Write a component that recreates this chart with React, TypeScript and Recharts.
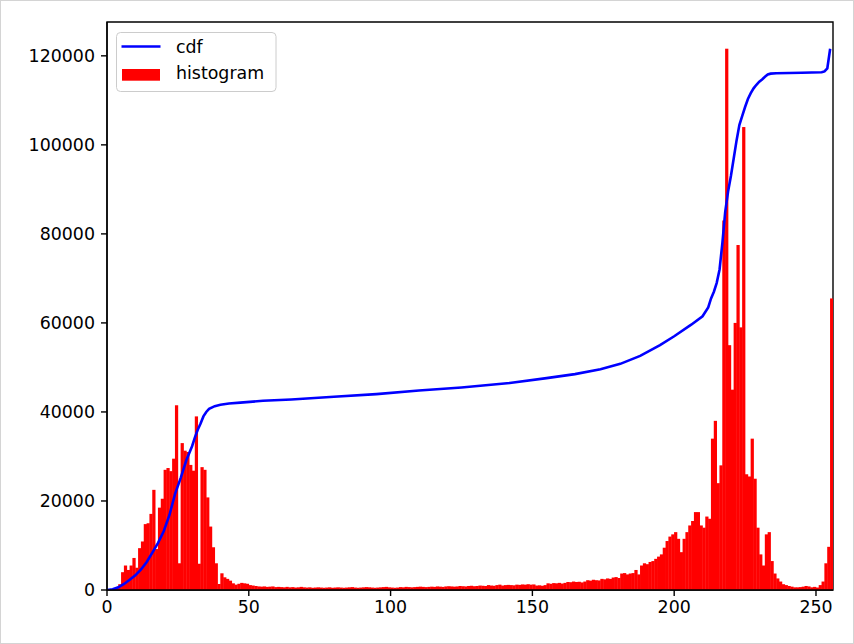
import React from 'react';
import { ComposedChart, Bar, Line, XAxis, YAxis, Legend, ReferenceArea } from 'recharts';

// bin index (pixel intensity 0..255)
const binIndex: number[] = Array.from({ length: 256 }, (_, i) => i);

// histogram counts per bin
const histogram: number[] = [
  0, 0, 200, 500, 1300, 4000, 5500, 4500, 5500, 7200,
  5000, 9400, 10900, 14800, 15000, 17100, 22500, 9200, 18500, 20500,
  27000, 27400, 26700, 29500, 41500, 6000, 33000, 31300, 31000, 28100,
  26800, 39000, 5900, 27600, 27000, 20800, 14250, 9600, 6000, 1350,
  3750, 2850, 2500, 2100, 1500, 1200, 1400, 1600, 1500, 1400,
  1100, 1000, 900, 800, 750, 800, 700, 750, 800, 650,
  700, 650, 600, 700, 600, 650, 550, 600, 700, 600,
  550, 600, 500, 550, 600, 550, 500, 550, 600, 500,
  550, 600, 550, 500, 550, 600, 650, 550, 500, 550,
  600, 650, 600, 550, 500, 550, 600, 650, 700, 600,
  550, 500, 550, 650, 600, 700, 650, 600, 650, 700,
  750, 700, 650, 700, 750, 700, 800, 750, 700, 800,
  850, 800, 750, 800, 900, 850, 800, 900, 950, 850,
  900, 1000, 950, 900, 1100, 1000, 950, 1100, 1200, 1000,
  1100, 1150, 1100, 1050, 1200, 1150, 1250, 1200, 1300, 1200,
  1250, 1000, 1050, 950, 1100, 1500, 1400, 1550, 1500, 1600,
  1450, 1600, 1800, 1750, 1900, 1800, 1850, 1700, 1900, 2200,
  2100, 2300, 2200, 2150, 2500, 2400, 2600, 2500, 2800, 2900,
  2700, 3700, 3800, 3500, 3700, 3800, 4500, 3500, 5500, 6000,
  5800, 6300, 6500, 7000, 7500, 8000, 9500, 11000, 12000, 12500,
  13000, 11500, 8500, 11500, 13000, 14500, 15500, 17500, 17500, 14500,
  14000, 16500, 16000, 34000, 38000, 24000, 28000, 83000, 121600, 55000,
  45000, 60000, 77500, 59000, 104000, 26000, 25500, 34000, 25000, 14000,
  8000, 5500, 12500, 13000, 6500, 3700, 2600, 1900, 1300, 1100,
  900, 750, 600, 600, 650, 750, 900, 800, 600, 700,
  550, 1100, 1900, 6000, 9700, 65500,
];

// normalized cdf at selected bins
const cdfBins: number[] = [
  0, 2, 4, 6, 8, 10, 12, 14, 16, 18, 20, 22, 24, 26, 28, 30, 31, 32, 33, 34, 35, 36, 38, 40, 43, 47,
  55, 65, 80, 95, 110, 125, 142, 155, 165, 174, 181, 188, 195, 200, 206, 210, 212, 213, 214, 215,
  216, 217, 218, 219, 220, 221, 222, 223, 224, 225, 226, 227, 228, 229, 230, 231, 232, 233, 234,
  236, 245, 252, 253, 254, 255,
];
const cdfValues: number[] = [
  0, 150, 600, 1350, 2300, 3300, 4600, 6300, 8400, 10600, 13200, 16800, 21600, 25200, 29200, 32300, 34300, 36000, 37400, 39000, 40000, 40700, 41300, 41600, 41900, 42100,
  42500, 42800, 43400, 44000, 44800, 45500, 46500, 47600, 48500, 49600, 50800, 52600, 55000, 57000, 59600, 61500, 63500, 65500, 67000, 69000,
  72000, 78000, 85000, 89500, 93000, 97000, 101000, 104500, 106500, 108500, 110300, 111600, 112700, 113500, 114200, 114700, 115300, 115800, 116000,
  116100, 116200, 116300, 116500, 117200, 121600,
];

const xTicks: number[] = [0, 50, 100, 150, 200, 250];
const yTicks: number[] = [0, 20000, 40000, 60000, 80000, 100000, 120000];
const seriesNames: string[] = ['cdf', 'histogram'];

const X_DOMAIN: [number, number] = [0, 256];
const Y_DOMAIN: [number, number] = [0, 127600];

const cdfMap = new Map<number, number>();
cdfBins.forEach((b, k) => cdfMap.set(b, cdfValues[k]));

const data = binIndex.map((b, i) => ({
  binCenter: b + 0.5,
  bin: b,
  histogram: histogram[i],
  cdf: cdfMap.has(b) ? cdfMap.get(b) : null,
}));

const CHART_W = 854;
const CHART_H = 644;
const MARGIN = { top: 22, right: 21, bottom: 0, left: 0 };
const Y_AXIS_W = 107;
const PLOT_W = CHART_W - MARGIN.right - MARGIN.left - Y_AXIS_W;
const BAR_W = PLOT_W / (X_DOMAIN[1] - X_DOMAIN[0]);

const FONT = 'DejaVu Sans';
const FS = 17.4;
const axisStroke = { stroke: '#000', strokeWidth: 1.4 };
const tickStyle = { fill: '#000', fontSize: FS, fontFamily: FONT };

// full-width bin bar centred on the position the library computed
const BinBar = (props: any) => {
  const { x, y, width, height } = props;
  if (!height || height <= 0) return null;
  const cx = x + width / 2;
  return <rect x={cx - BAR_W / 2 - 0.2} y={y} width={BAR_W + 0.4} height={height} fill="#ff0000" />;
};

const LegendBox = () => (
  <svg width={162} height={62} style={{ display: 'block' }}>
    <rect x={0.5} y={0.5} width={159.5} height={59} rx={4} ry={4} fill="#ffffff" fillOpacity={0.8} stroke="#cccccc" strokeWidth={1} />
    <line x1={5.5} x2={44.5} y1={14.5} y2={14.5} stroke="#0000ff" strokeWidth={2.6} />
    <rect x={6} y={37} width={38} height={11.7} fill="#ff0000" />
    <text x={60} y={21} fontFamily={FONT} fontSize={FS} fill="#000">{seriesNames[0]}</text>
    <text x={60} y={46.5} fontFamily={FONT} fontSize={FS} fill="#000">{seriesNames[1]}</text>
  </svg>
);

export default function App() {
  return (
    <div style={{ position: 'absolute', left: 0, top: 0, width: CHART_W, height: CHART_H, background: '#fff' }}>
      <ComposedChart
        width={CHART_W}
        height={CHART_H}
        data={data}
        margin={MARGIN}
        barCategoryGap={0}
        barGap={0}
      >
        <XAxis
          xAxisId="bar"
          dataKey="binCenter"
          type="number"
          domain={X_DOMAIN}
          ticks={xTicks}
          interval={0}
          allowDataOverflow
          height={54}
          tickSize={6}
          tickMargin={5}
          axisLine={axisStroke}
          tickLine={axisStroke}
          tick={tickStyle}
        />
        <XAxis xAxisId="line" dataKey="bin" type="number" domain={X_DOMAIN} allowDataOverflow hide />
        <YAxis
          yAxisId="left"
          type="number"
          domain={Y_DOMAIN}
          ticks={yTicks}
          interval={0}
          allowDataOverflow
          width={Y_AXIS_W}
          tickSize={6}
          tickMargin={6}
          axisLine={axisStroke}
          tickLine={axisStroke}
          tick={tickStyle}
        />
        <Bar
          xAxisId="bar"
          yAxisId="left"
          dataKey="histogram"
          name={seriesNames[1]}
          fill="#ff0000"
          shape={BinBar}
          isAnimationActive={false}
        />
        <Line
          xAxisId="line"
          yAxisId="left"
          dataKey="cdf"
          name={seriesNames[0]}
          type="linear"
          stroke="#0000ff"
          strokeWidth={2.6}
          dot={false}
          activeDot={false}
          connectNulls
          isAnimationActive={false}
        />
        <ReferenceArea
          xAxisId="bar"
          yAxisId="left"
          x1={0}
          x2={256}
          y1={0}
          y2={127600}
          fill="none"
          stroke="#000"
          strokeWidth={1.4}
          ifOverflow="visible"
        />
        <Legend
          layout="horizontal"
          align="center"
          verticalAlign="middle"
          content={() => <LegendBox />}
          wrapperStyle={{ left: 116, top: 32, width: 162, height: 62 }}
        />
      </ComposedChart>
      <div
        style={{
          position: 'absolute',
          left: 0,
          top: 0,
          width: CHART_W,
          height: CHART_H,
          boxSizing: 'border-box',
          border: '1px solid #d4d4d4',
          pointerEvents: 'none',
        }}
      />
    </div>
  );
}
